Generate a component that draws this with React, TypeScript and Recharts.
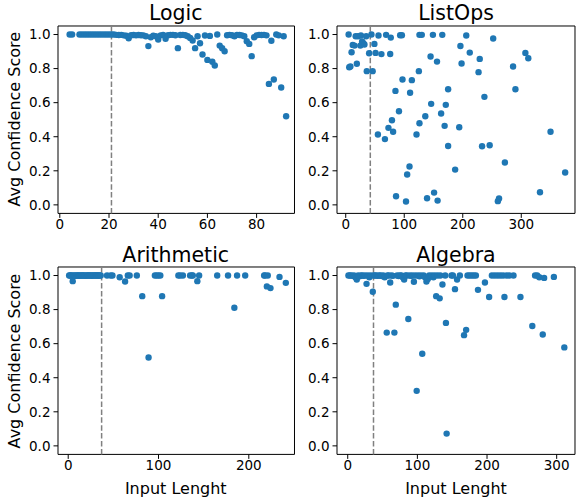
import React from 'react';
import { ScatterChart, Scatter, XAxis, YAxis, ReferenceLine, ReferenceArea } from 'recharts';

const FONT = '"DejaVu Sans", Verdana, sans-serif';
const DOT = '#1f77b4';
const Y_TICKS = [0, 0.2, 0.4, 0.6, 0.8, 1.0];
const Y_DOMAIN: [number, number] = [-0.05, 1.05];

// ---- Logic ----
const logicLen = [4,5,8,9,10,11,12,13,14,15,16,17,18,19,20,21,22,23,24,25,26,27,28,29,30,31,32,33,34,35,36,37,38,39,40,41,42,43,44,45,46,47,48,49,50,51,52,53,54,55,56,57,58,59,60,61,62,63,64,65,66,67,68,69,70,71,72,73,74,75,76,77,78,79,80,81,82,83,84,85,86,87,88,89,90,91,92];
const logicScore = [1.0,1.0,1.0,1.0,1.0,1.0,1.0,1.0,1.0,1.0,1.0,1.0,1.0,1.0,1.0,1.0,1.0,0.998,0.997,0.998,0.995,0.993,0.978,0.996,0.997,0.995,0.997,0.996,0.995,0.99,0.932,0.984,0.993,0.99,0.971,0.995,0.997,0.975,0.996,0.998,0.998,0.996,0.92,0.997,0.998,0.996,0.99,0.98,0.965,0.92,0.99,0.949,0.883,0.994,0.851,0.992,0.84,0.818,1.0,0.935,0.92,0.902,0.996,0.998,0.996,0.99,0.998,0.997,0.995,0.99,0.961,0.945,0.873,0.984,0.995,0.998,0.997,0.998,0.995,0.71,0.963,0.736,1.0,0.995,0.689,0.99,0.52];

// ---- ListOps ----
const listopsLen = [5,6,8,10,12,15,17,19,21,25,26,28,30,32,35,36,40,44,46,49,51,55,56,61,67,69,73,76,77,79,81,85,86,91,93,96,97,103,105,109,110,113,121,125,126,126,130,136,139,145,146,149,151,156,157,163,165,169,171,175,175,187,194,196,198,206,212,227,229,233,237,246,252,260,262,272,286,290,307,312,332,350,375];
const listopsScore = [1.0,0.808,0.812,0.896,0.939,0.935,0.99,0.828,0.99,0.935,0.994,0.959,0.949,0.941,0.99,0.785,0.89,1.0,0.785,0.945,0.892,0.413,0.994,0.885,0.386,0.998,0.452,0.886,0.982,0.497,0.429,0.669,0.051,0.55,0.996,0.996,0.736,0.02,0.178,0.225,0.658,0.732,0.413,0.785,0.479,0.998,0.998,0.52,0.039,0.871,0.593,0.998,0.072,0.841,0.025,0.536,0.998,0.464,0.587,0.679,0.346,0.207,0.456,0.933,0.83,0.994,0.894,0.779,0.857,0.344,0.634,0.35,0.977,0.022,0.037,0.249,0.812,0.679,0.892,0.861,0.074,0.429,0.19];

// ---- Arithmetic ----
const arithLen = [1,2,3,4,5,6,7,8,9,10,11,12,13,14,15,16,17,18,19,20,21,22,23,24,25,26,27,28,29,30,31,32,33,34,35,36,43,47,49,57,63,66,68,76,82,89,96,98,100,102,104,122,124,127,135,137,138,143,145,165,177,184,187,196,217,218,220,221,224,234,241];
const arithScore = [1.0,1.0,1.0,1.0,0.967,1.0,1.0,0.998,1.0,1.0,1.0,1.0,0.999,1.0,1.0,1.0,1.0,1.0,0.998,1.0,1.0,1.0,1.0,1.0,1.0,0.999,1.0,1.0,1.0,1.0,1.0,1.0,1.0,1.0,1.0,1.0,1.0,1.0,1.0,0.99,0.965,1.0,1.0,1.0,0.879,0.519,1.0,1.0,1.0,1.0,0.879,1.0,1.0,1.0,1.0,1.0,1.0,0.967,1.0,1.0,1.0,0.811,1.0,1.0,1.0,1.0,0.936,1.0,0.926,0.992,0.957];

// ---- Algebra ----
const algebraLen = [1,3,5,7,9,11,13,15,17,19,21,23,25,27,29,31,33,36,37,39,41,43,45,47,49,51,53,56,57,59,61,63,65,67,69,71,73,75,77,79,81,83,85,87,89,91,93,95,97,99,101,103,105,107,109,111,113,115,117,119,121,123,125,127,129,132,133,136,140,141,142,149,151,154,157,161,167,170,172,175,178,181,184,187,197,203,207,211,215,219,223,225,228,232,238,248,265,269,272,275,280,282,296,311];
const algebraScore = [1.0,1.0,1.0,0.998,1.0,0.99,0.977,1.0,0.995,1.0,1.0,0.998,1.0,0.951,1.0,0.99,1.0,0.905,1.0,1.0,1.0,0.998,1.0,1.0,0.997,1.0,0.99,0.665,1.0,1.0,0.959,1.0,0.998,0.665,0.829,1.0,0.997,1.0,1.0,0.99,0.977,1.0,1.0,0.745,1.0,0.998,1.0,0.963,1.0,0.323,1.0,0.995,1.0,0.541,1.0,0.99,0.965,0.98,1.0,0.995,1.0,0.99,1.0,0.879,1.0,0.866,1.0,0.947,1.0,0.722,0.072,1.0,1.0,0.92,0.977,1.0,0.65,0.681,1.0,1.0,1.0,1.0,1.0,0.916,0.959,0.874,1.0,1.0,1.0,1.0,1.0,0.874,1.0,1.0,1.0,0.874,0.704,1.0,1.0,0.99,0.654,0.986,0.992,0.578];

const logicTicks = [0, 20, 40, 60, 80];
const listopsTicks = [0, 100, 200, 300];
const arithTicks = [0, 100, 200];
const algebraTicks = [0, 100, 200, 300];

type PanelProps = {
  xs: number[];
  ys: number[];
  xDomain: [number, number];
  xTicks: number[];
  refX: number;
  frameLeft: number;
  frameTop: number;
  fw: number;
  fh: number;
};

const ML = 50;
const MT = 10;
const MR = 10;
const XH = 30;

function Panel({ xs, ys, xDomain, xTicks, refX, frameLeft, frameTop, fw, fh }: PanelProps) {
  const data = xs.map((x, i) => ({ x, y: ys[i] }));
  const tickStyle = { fill: '#000', fontSize: 13.5, fontFamily: FONT };
  return (
    <div style={{ position: 'absolute', left: frameLeft - ML, top: frameTop - MT }}>
      <ScatterChart
        width={ML + fw + MR}
        height={MT + fh + XH}
        margin={{ top: MT, right: MR, bottom: 0, left: 0 }}
      >
        <XAxis
          type="number"
          dataKey="x"
          domain={xDomain}
          ticks={xTicks}
          interval={0}
          allowDataOverflow
          axisLine={false}
          tickLine={{ stroke: '#000', strokeWidth: 1 }}
          tickSize={4.5}
          tickMargin={2}
          tick={tickStyle}
          height={XH}
        />
        <YAxis
          type="number"
          dataKey="y"
          domain={Y_DOMAIN}
          ticks={Y_TICKS}
          interval={0}
          allowDataOverflow
          axisLine={false}
          tickLine={{ stroke: '#000', strokeWidth: 1 }}
          tickSize={4.5}
          tickMargin={3}
          tick={tickStyle}
          width={ML}
          tickFormatter={(v: number) => v.toFixed(1)}
        />
        <Scatter
          data={data}
          isAnimationActive={false}
          fill={DOT}
          shape={(p: any) => <circle cx={p.cx} cy={p.cy} r={3.2} fill={DOT} />}
        />
        <ReferenceLine
          x={refX}
          stroke="#808080"
          strokeWidth={1.5}
          strokeDasharray="5.5 2.4"
        />
        <ReferenceArea
          x1={xDomain[0]}
          x2={xDomain[1]}
          y1={Y_DOMAIN[0]}
          y2={Y_DOMAIN[1]}
          fill="none"
          fillOpacity={0}
          stroke="#000"
          strokeWidth={1}
        />
      </ScatterChart>
    </div>
  );
}

const LEFT_FL = 57.5;
const LEFT_FW = 236.5;
const RIGHT_FL = 337;
const RIGHT_FW = 238;
const TOP_FT = 25.5;
const BOT_FT = 267.4;
const FH = 187.4;

export default function App() {
  const textStyle = { fontFamily: FONT, fill: '#000' };
  const leftC = LEFT_FL + LEFT_FW / 2;
  const rightC = RIGHT_FL + RIGHT_FW / 2;
  return (
    <div style={{ position: 'absolute', left: 0, top: 0, width: 576, height: 500, background: '#fff', fontFamily: FONT }}>
      <Panel xs={logicLen} ys={logicScore} xDomain={[-0.73, 95.4]} xTicks={logicTicks} refX={21}
        frameLeft={LEFT_FL} frameTop={TOP_FT} fw={LEFT_FW} fh={FH} />
      <Panel xs={listopsLen} ys={listopsScore} xDomain={[-14.9, 391.8]} xTicks={listopsTicks} refX={42}
        frameLeft={RIGHT_FL} frameTop={TOP_FT} fw={RIGHT_FW} fh={FH} />
      <Panel xs={arithLen} ys={arithScore} xDomain={[-11.3, 250.6]} xTicks={arithTicks} refX={37}
        frameLeft={LEFT_FL} frameTop={BOT_FT} fw={LEFT_FW} fh={FH} />
      <Panel xs={algebraLen} ys={algebraScore} xDomain={[-15.4, 326.3]} xTicks={algebraTicks} refX={37}
        frameLeft={RIGHT_FL} frameTop={BOT_FT} fw={RIGHT_FW} fh={FH} />
      <svg width={576} height={500} style={{ position: 'absolute', left: 0, top: 0, pointerEvents: 'none' }}>
        <text x={leftC} y={20} textAnchor="middle" fontSize={20.5} style={textStyle}>Logic</text>
        <text x={rightC} y={20} textAnchor="middle" fontSize={20.5} style={textStyle}>ListOps</text>
        <text x={leftC} y={261.7} textAnchor="middle" fontSize={20.5} style={textStyle}>Arithmetic</text>
        <text x={rightC} y={261.7} textAnchor="middle" fontSize={20.5} style={textStyle}>Algebra</text>
        <text transform={`translate(19.5, ${TOP_FT + FH / 2}) rotate(-90)`} textAnchor="middle" fontSize={16} style={textStyle}>Avg Confidence Score</text>
        <text transform={`translate(19.5, ${BOT_FT + FH / 2}) rotate(-90)`} textAnchor="middle" fontSize={16} style={textStyle}>Avg Confidence Score</text>
        <text x={leftC} y={494} textAnchor="middle" fontSize={16} style={textStyle}>Input Lenght</text>
        <text x={rightC} y={494} textAnchor="middle" fontSize={16} style={textStyle}>Input Lenght</text>
      </svg>
    </div>
  );
}
